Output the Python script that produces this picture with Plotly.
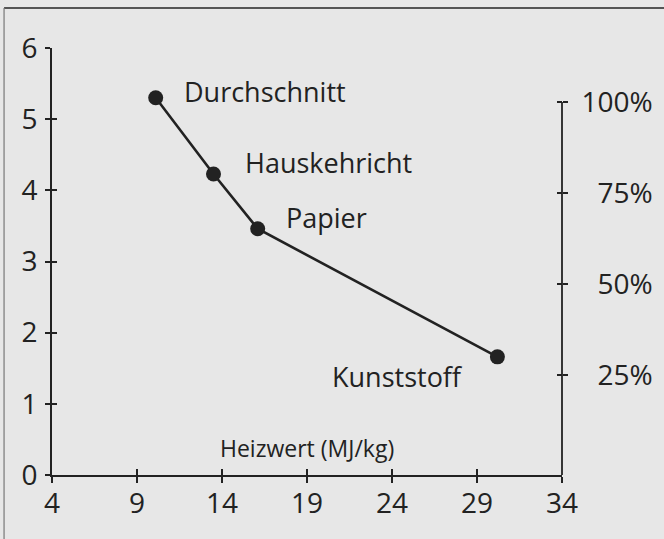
import plotly.graph_objects as go

categories = ["Durchschnitt", "Hauskehricht", "Papier", "Kunststoff"]
heizwert = [10.1, 13.5, 16.1, 30.2]
werte = [5.3, 4.23, 3.46, 1.66]

x_ticks = [4, 9, 14, 19, 24, 29, 34]
y_ticks = [0, 1, 2, 3, 4, 5, 6]
pct_ticks = [25, 50, 75, 100]
pct_labels = ["\u200725%", "\u200750%", "\u200775%", "100%"]
x_title = "Heizwert (MJ/kg)"

FONT = "Open Sans"
INK = "#222222"
BG = "#e7e7e7"

fig = go.Figure()
fig.add_trace(go.Scatter(
    x=heizwert, y=werte, mode="lines+markers",
    line=dict(color=INK, width=2.6),
    marker=dict(color=INK, size=15),
    showlegend=False, hoverinfo="skip",
))
# empty traces so the overlay axes (cross-over tick marks) get drawn
for xa, ya in [("x2", "y3"), ("x", "y2"), ("x", "y4")]:
    fig.add_trace(go.Scatter(x=[], y=[], xaxis=xa, yaxis=ya, mode="markers",
                             showlegend=False, hoverinfo="skip"))

# label offsets (pixels) relative to each point
offsets = [(26, 6, "left"), (29, 11, "left"), (26, 11, "left"), (-32, -20, "right")]
for cat, xv, yv, (dx, dy, anc) in zip(categories, heizwert, werte, offsets):
    fig.add_annotation(x=xv, y=yv, xref="x", yref="y", text=cat, showarrow=False,
                       xanchor=anc, yanchor="middle", xshift=dx, yshift=dy,
                       font=dict(family=FONT, size=27, color=INK))

fig.add_annotation(x=19, y=0, xref="x", yref="y", text=x_title, showarrow=False,
                   xanchor="center", yanchor="middle", yshift=27,
                   font=dict(family=FONT, size=23, color=INK))

axis_common = dict(showgrid=False, zeroline=False, tickcolor=INK, tickwidth=1.5,
                   automargin=False,
                   tickfont=dict(family=FONT, size=28, color=INK))

y2_range = [-2.5, 114.8]

fig.update_layout(
    width=664, height=539,
    margin=dict(l=52, r=102, t=48, b=64, autoexpand=False),
    paper_bgcolor=BG, plot_bgcolor=BG,
    xaxis=dict(range=[4, 34], tickvals=x_ticks, ticks="outside", ticklen=6,
               showline=True, linecolor=INK, linewidth=1.8, anchor="y",
               ticklabelstandoff=-4, **axis_common),
    xaxis2=dict(range=[4, 34], tickvals=x_ticks, ticks="inside", ticklen=6,
                overlaying="x", anchor="y", showticklabels=False, showline=False,
                showgrid=False, zeroline=False, tickcolor=INK, tickwidth=1.5,
                automargin=False),
    yaxis=dict(range=[0, 6], tickvals=y_ticks, ticks="outside", ticklen=5,
               showline=True, linecolor=INK, linewidth=1.8, anchor="x",
               ticklabelstandoff=2, **axis_common),
    yaxis3=dict(range=[0, 6], tickvals=y_ticks, ticks="inside", ticklen=5,
                overlaying="y", anchor="x", showticklabels=False, showline=False,
                showgrid=False, zeroline=False, tickcolor=INK, tickwidth=1.5,
                automargin=False),
    yaxis2=dict(range=y2_range, tickvals=pct_ticks, ticktext=pct_labels,
                ticks="outside", ticklen=5, overlaying="y", side="right", anchor="x",
                showline=False, ticklabelstandoff=8, **axis_common),
    yaxis4=dict(range=y2_range, tickvals=pct_ticks, ticks="inside", ticklen=5,
                overlaying="y", side="right", anchor="x", showticklabels=False,
                showline=False, showgrid=False, zeroline=False,
                tickcolor=INK, tickwidth=1.5, automargin=False),
)

# right axis line only up to 100 %
fig.add_shape(type="line", xref="paper", yref="y2", x0=1, x1=1,
              y0=y2_range[0], y1=100, line=dict(color=INK, width=1.8))
# frame lines (top and left) of the figure
fig.add_shape(type="line", xref="paper", yref="paper", x0=-0.094, x1=1.25,
              y0=1.0937, y1=1.0937, line=dict(color="#555555", width=2))
fig.add_shape(type="line", xref="paper", yref="paper", x0=-0.094, x1=-0.094,
              y0=1.0937, y1=-0.2, line=dict(color="#777777", width=1.2))

fig.write_html("out.html",
               config={"displayModeBar": False},
               post_script="document.body.style.margin='0';"
                           "document.body.style.background='#e7e7e7';")
